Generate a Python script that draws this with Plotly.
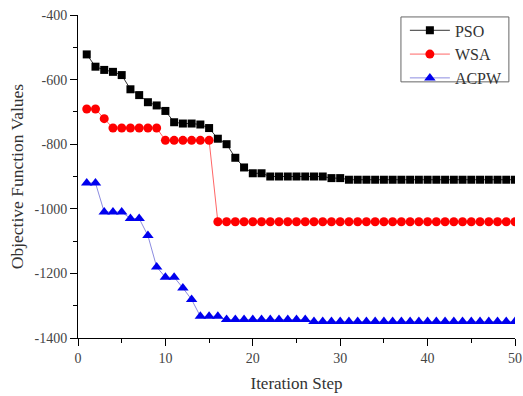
import plotly.graph_objects as go

iterations = list(range(1, 51))
pso = [-522, -560, -570, -576, -586, -630, -648, -670, -680, -697,
       -732, -736, -736, -739, -750, -783, -800, -842, -872, -890,
       -890] + [-900] * 7 + [-905] * 2 + [-910] * 20
wsa = [-691, -691, -721] + [-750] * 6 + [-788] * 6 + [-1040] * 35
acpw = [-920, -920, -1010, -1010, -1010, -1030, -1030, -1083, -1180, -1212,
        -1212, -1245, -1281, -1333, -1333, -1333] + [-1343] * 10 + [-1349] * 24

x_ticks = [0, 10, 20, 30, 40, 50]
y_ticks = [-400, -600, -800, -1000, -1200, -1400]

font = "Liberation Serif"

fig = go.Figure()
fig.add_trace(go.Scatter(x=iterations, y=pso, name="PSO", mode="lines+markers",
                         line=dict(color="#333333", width=1),
                         marker=dict(symbol="square", size=8, color="black")))
fig.add_trace(go.Scatter(x=iterations, y=wsa, name="WSA", mode="lines+markers",
                         line=dict(color="#ff6666", width=1),
                         marker=dict(symbol="circle", size=9, color="#ff0000")))
fig.add_trace(go.Scatter(x=iterations, y=acpw, name="ACPW", mode="lines+markers",
                         line=dict(color="#8c8ce0", width=1),
                         marker=dict(symbol="triangle-up", size=10, color="#0000ee")))

axis_common = dict(showline=True, linecolor="black", linewidth=1, mirror=False,
                   ticks="outside", ticklen=7, tickcolor="black", showgrid=False,
                   zeroline=False, automargin=False,
                   tickfont=dict(family=font, size=14, color="#444"))

fig.update_xaxes(range=[0, 50], tickmode="array", tickvals=x_ticks,
                 ticktext=[str(v) for v in x_ticks],
                 minor=dict(dtick=5, ticks="outside", ticklen=4, tickcolor="black"),
                 title=dict(text="Iteration Step", font=dict(family=font, size=17, color="#333"), standoff=12),
                 **axis_common)
fig.update_yaxes(range=[-1400, -400], tickmode="array", tickvals=y_ticks,
                 ticktext=[str(v) for v in y_ticks],
                 minor=dict(dtick=100, ticks="outside", ticklen=4, tickcolor="black"),
                 title=dict(text="Objective Function Values", font=dict(family=font, size=17.5, color="#333"), standoff=6),
                 **axis_common)

fig.add_shape(type="rect", xref="paper", yref="paper",
              x0=0.739, x1=0.986, y0=0.793, y1=0.994,
              line=dict(color="#666", width=1), fillcolor="rgba(0,0,0,0)")

fig.update_layout(
    width=523, height=396,
    margin=dict(l=78, r=8, t=15, b=58),
    plot_bgcolor="white", paper_bgcolor="white",
    font=dict(family=font),
    legend=dict(x=0.748, y=1.005, xanchor="left", yanchor="top",
                borderwidth=0, bgcolor="rgba(0,0,0,0)",
                font=dict(family=font, size=16, color="#333"),
                itemwidth=40, tracegroupgap=0),
)

fig.write_html("out.html")
